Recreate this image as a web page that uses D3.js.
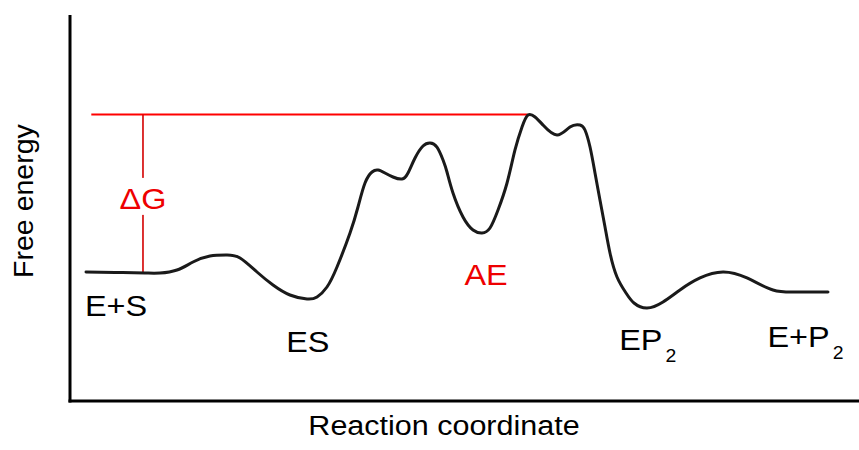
<!DOCTYPE html>
<html>
<head>
<meta charset="utf-8">
<script src="https://cdn.jsdelivr.net/npm/d3@7"></script>
<style>
  body { margin: 0; background: #fff; }
  svg { display: block; font-family: "Liberation Sans", Arial, sans-serif; }
</style>
</head>
<body>
<svg></svg>
<script>
// reaction coordinate (0-100) and free energy (0-100)
const coord = [2.03, 5.70, 9.51, 11.41, 13.56, 15.59, 17.74, 19.90, 21.55, 23.70, 25.73, 27.88, 30.04, 31.31, 32.57, 33.84,
  35.49, 36.50, 37.39, 38.28, 39.04, 39.92, 40.94, 42.08, 42.84, 43.73, 44.74, 45.63, 46.51, 47.28, 47.78,
  48.54, 49.81, 51.08, 52.22, 53.23, 54.25, 55.39, 56.40, 57.29, 58.05, 58.94, 59.95, 61.72, 63.37, 64.64, 65.27,
  65.91, 66.54, 67.17, 67.81, 68.44, 69.33, 70.47, 71.48, 73.13, 75.16, 77.31, 79.85, 82.76, 85.80, 89.10, 92.14, 96.07]
const energy = [33.42, 33.29, 33.16, 33.16, 33.94, 36.01, 37.56, 37.82, 37.05, 33.42, 30.05, 27.46, 26.42, 26.94, 29.53, 34.72,
  43.52, 50.26, 56.48, 59.33, 59.84, 59.07, 58.03, 57.51, 59.07, 62.95, 66.06, 66.84, 65.80, 62.44, 59.33,
  53.89, 47.67, 44.30, 43.52, 44.82, 49.48, 56.48, 65.03, 70.98, 74.09, 73.58, 71.50, 68.91, 70.98, 71.50, 70.21,
  65.80, 59.07, 52.07, 45.08, 38.34, 32.12, 27.98, 25.39, 24.09, 25.65, 28.76, 31.87, 33.42, 31.87, 28.76, 28.24, 28.24]

// delta G: from the E+S level up to the highest barrier
const dG = {from: 2.7, to: 58.0, at: 9.25, low: 33.2, high: 74.2}

const labels = [
  {text: "E+S", x: 1.9, y: 22.0, color: "#000"},
  {text: "ES", x: 27.4, y: 12.7, color: "#000"},
  {text: "AE", x: 50.0, y: 30.1, color: "#ee0000"},
  {text: "EP", sub: "2", x: 69.6, y: 13.2, color: "#000"},
  {text: "E+P", sub: "2", x: 88.4, y: 14.0, color: "#000"}
]

const W = 859, H = 450,
  margin = {top: 15, right: 0, bottom: 49, left: 70},
  svg = d3.select("svg").attr("width", W).attr("height", H)

const x = d3.scaleLinear().domain([0, 100]).range([margin.left, W - margin.right]),
      y = d3.scaleLinear().domain([0, 100]).range([H - margin.bottom, margin.top])

const points = coord.map((c, i) => [c, energy[i]]),
      line = d3.line().x(d => x(d[0])).y(d => y(d[1])).curve(d3.curveNatural)

// axes, plain lines without ticks
svg.append("line").attr("x1", x(0)).attr("x2", x(0)).attr("y1", y(100)).attr("y2", y(0) + 1.5).style("stroke", "#000").style("stroke-width", 3)
svg.append("line").attr("x1", x(0) - 1.5).attr("x2", x(100)).attr("y1", y(0)).attr("y2", y(0)).style("stroke", "#000").style("stroke-width", 3)

svg.append("text").text("Free energy").attr("transform", `translate(33,${y(51.8)}) rotate(-90)`)
  .style("text-anchor", "middle").style("font-size", "28.5px")
svg.append("text").text("Reaction coordinate").attr("transform", `translate(${x(47.4)},435) scale(1.09,1)`)
  .style("text-anchor", "middle").style("font-size", "28px")

// delta G markers
svg.append("line").attr("x1", x(dG.from)).attr("x2", x(dG.to)).attr("y1", y(dG.high)).attr("y2", y(dG.high))
  .style("stroke", "#f00").style("stroke-width", 2)
svg.append("line").attr("x1", x(dG.at)).attr("x2", x(dG.at)).attr("y1", y(dG.high)).attr("y2", y(dG.low))
  .style("stroke", "#d40000").style("stroke-width", 1.6)
svg.append("rect").attr("x", x(dG.at) - 27).attr("y", y(57.8)).attr("width", 54).attr("height", 37).style("fill", "#fff")
svg.append("text").text("ΔG").attr("transform", `translate(${x(dG.at)},${y(49.7)}) scale(1.08,1)`)
  .style("text-anchor", "middle").style("font-size", "30px").style("fill", "#ee0000")

svg.append("path").datum(points).attr("d", line)
  .style("fill", "none").style("stroke", "#1a1a1a").style("stroke-width", 3).style("stroke-linecap", "round")

const lab = svg.selectAll("text.lab").data(labels).join("text").attr("class", "lab")
  .attr("transform", d => `translate(${x(d.x)},${y(d.y)}) scale(1.08,1)`)
  .style("font-size", "30px").style("fill", d => d.color)
lab.append("tspan").text(d => d.text)
lab.filter(d => d.sub).append("tspan").text(d => d.sub).attr("dx", 3).attr("dy", 12).style("font-size", "18px")
</script>
</body>
</html>
